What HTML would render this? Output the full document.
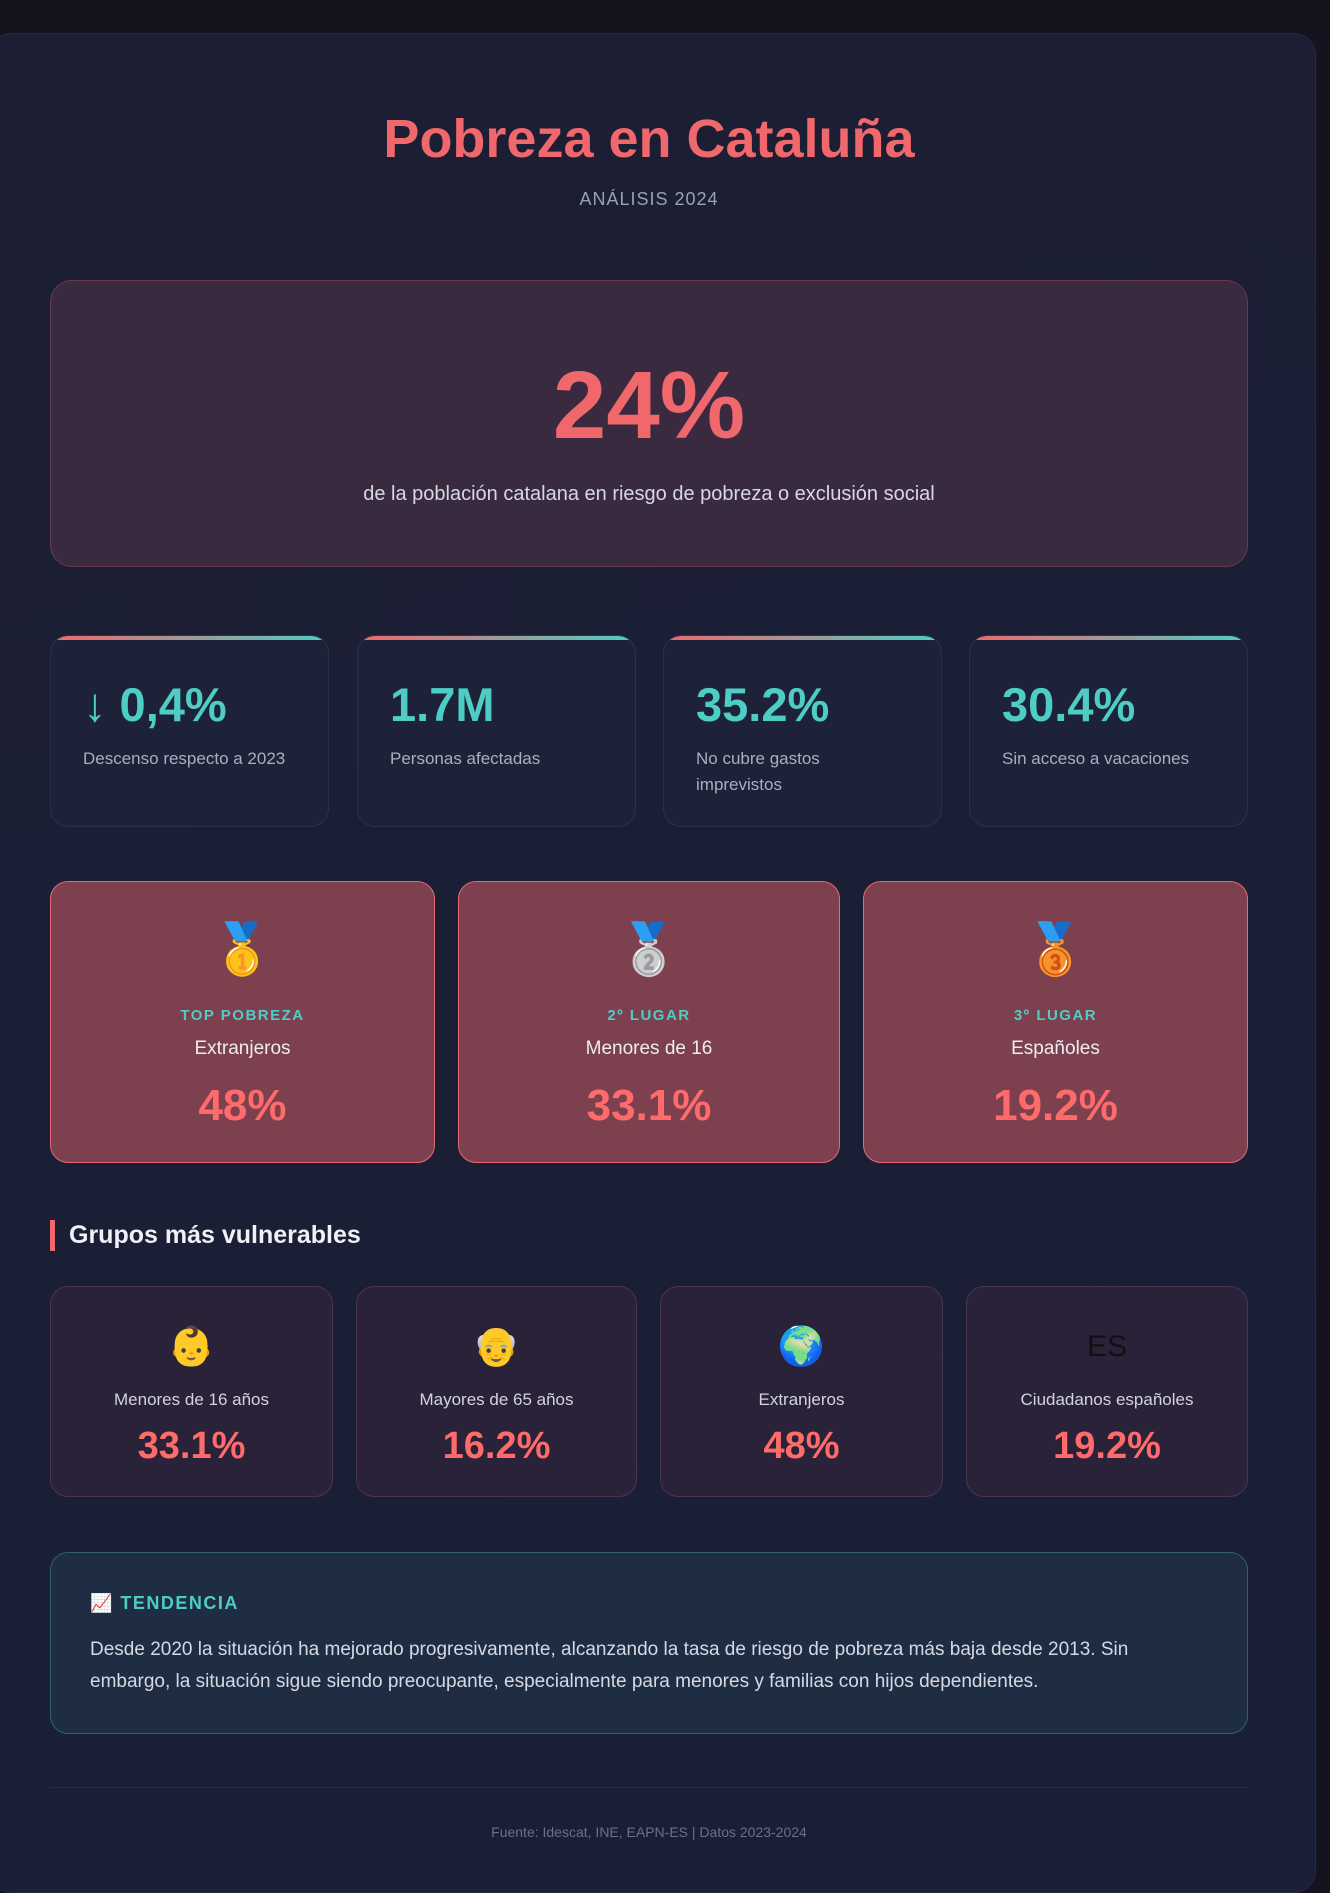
<!DOCTYPE html>
<html><head><meta charset="utf-8"><style>
*{box-sizing:border-box;margin:0;padding:0}
body{width:1330px;height:1873px;background:#15131f;font-family:"Liberation Sans","DejaVu Sans",sans-serif;position:relative;overflow:hidden;color:#e6e6ee}
.wrap{position:absolute;left:-10px;top:33px;width:1326px;height:1860px;background:linear-gradient(160deg,#1c1f33,#1a1f38);border:1px solid #262a42;border-radius:22px}
.abs{position:absolute}
.c{text-align:center}
h1{position:absolute;left:0;width:1298px;top:108px;text-align:center;font-size:54px;font-weight:bold;color:#f0676c}
.sub{left:0;width:1298px;top:189px;font-size:18px;color:#9aa0b4;letter-spacing:1px}
.hero{left:50px;top:280px;width:1198px;height:287px;background:#3a2a40;border:1px solid #6a3a4c;border-radius:22px}
.big{left:0;width:100%;top:70px;font-size:96px;font-weight:bold;color:#f0676c;text-align:center}
.herot{left:0;width:100%;top:202px;font-size:20px;color:#d8d8e2;text-align:center}
.stat{top:635px;height:192px;width:279px;background:#1e2238;border:1px solid #2c3148;border-radius:18px;overflow:hidden}
.stat:before{content:"";position:absolute;left:0;top:0;right:0;height:4px;background:linear-gradient(90deg,#f0676c,#4ecdc4)}
.stat .v{position:absolute;left:32px;top:41px;font-size:47px;font-weight:bold;color:#4ecdc4}
.stat .l{position:absolute;left:32px;top:110px;font-size:17px;color:#a9aec0;line-height:26px;width:240px}
.medal{top:881px;height:282px;background:#7d404f;border:1.5px solid #e66a72;border-radius:18px;text-align:center}
.medal .e{position:absolute;left:0;width:100%;top:38px;font-size:50px}
.medal .t{position:absolute;left:0;width:100%;top:125px;font-size:15px;font-weight:bold;color:#4ecdc4;letter-spacing:1.5px}
.medal .n{position:absolute;left:0;width:100%;top:156px;font-size:19px;color:#ececf2}
.medal .p{position:absolute;left:0;width:100%;top:199px;font-size:44px;font-weight:bold;color:#ff6b6b}
.sec{left:50px;top:1220px;height:31px;border-left:5px solid #f0676c;padding-left:14px;font-size:25px;font-weight:bold;color:#f0f0f6;line-height:31px}
.grp{top:1286px;height:211px;background:#2a2238;border:1px solid #4a3550;border-radius:18px;text-align:center}
.grp .e{position:absolute;left:0;width:100%;top:38px;font-size:38px;line-height:44px}
.grp .n{position:absolute;left:0;width:100%;top:103px;font-size:17px;color:#d2d4de}
.grp .p{position:absolute;left:0;width:100%;top:138px;font-size:38px;font-weight:bold;color:#ff6b6b}
.tend{left:50px;top:1552px;width:1198px;height:182px;background:#1e2d42;border:1px solid #2f6272;border-radius:18px}
.tend .h{position:absolute;left:39px;top:40px;font-size:18px;font-weight:bold;color:#4ecdc4;letter-spacing:1.5px}
.tend .x{position:absolute;left:39px;top:81px;width:1110px;font-size:19px;line-height:32px;color:#d6d9e4}
.line{left:50px;top:1787px;width:1198px;height:1px;background:#262b42}
.foot{left:0;width:1298px;top:1824px;font-size:14px;color:#6b7089;text-align:center}
</style></head><body>
<div class="abs" style="left:0;top:0;width:1330px;height:33px;background:#15121d"></div>
<div class="wrap"></div>
<h1>Pobreza en Cataluña</h1>
<div class="abs sub c">ANÁLISIS 2024</div>
<div class="abs hero"><div class="abs big">24%</div><div class="abs herot">de la población catalana en riesgo de pobreza o exclusión social</div></div>
<div class="abs stat" style="left:50px"><div class="v">↓ 0,4%</div><div class="l">Descenso respecto a 2023</div></div>
<div class="abs stat" style="left:357px"><div class="v">1.7M</div><div class="l">Personas afectadas</div></div>
<div class="abs stat" style="left:663px"><div class="v">35.2%</div><div class="l" style="width:190px">No cubre gastos imprevistos</div></div>
<div class="abs stat" style="left:969px"><div class="v">30.4%</div><div class="l">Sin acceso a vacaciones</div></div>
<div class="abs medal" style="left:50px;width:385px"><div class="e">🥇</div><div class="t">TOP POBREZA</div><div class="n">Extranjeros</div><div class="p">48%</div></div>
<div class="abs medal" style="left:458px;width:382px"><div class="e">🥈</div><div class="t">2º LUGAR</div><div class="n">Menores de 16</div><div class="p">33.1%</div></div>
<div class="abs medal" style="left:863px;width:385px"><div class="e">🥉</div><div class="t">3º LUGAR</div><div class="n">Españoles</div><div class="p">19.2%</div></div>
<div class="abs sec">Grupos más vulnerables</div>
<div class="abs grp" style="left:50px;width:283px"><div class="e">👶</div><div class="n">Menores de 16 años</div><div class="p">33.1%</div></div>
<div class="abs grp" style="left:356px;width:281px"><div class="e">👴</div><div class="n">Mayores de 65 años</div><div class="p">16.2%</div></div>
<div class="abs grp" style="left:660px;width:283px"><div class="e">🌍</div><div class="n">Extranjeros</div><div class="p">48%</div></div>
<div class="abs grp" style="left:966px;width:282px"><div class="e" style="font-size:30px;color:#111">ES</div><div class="n">Ciudadanos españoles</div><div class="p">19.2%</div></div>
<div class="abs tend"><div class="h">📈 TENDENCIA</div><div class="x">Desde 2020 la situación ha mejorado progresivamente, alcanzando la tasa de riesgo de pobreza más baja desde 2013. Sin embargo, la situación sigue siendo preocupante, especialmente para menores y familias con hijos dependientes.</div></div>
<div class="abs line"></div>
<div class="abs foot">Fuente: Idescat, INE, EAPN-ES | Datos 2023-2024</div>
</body></html>
